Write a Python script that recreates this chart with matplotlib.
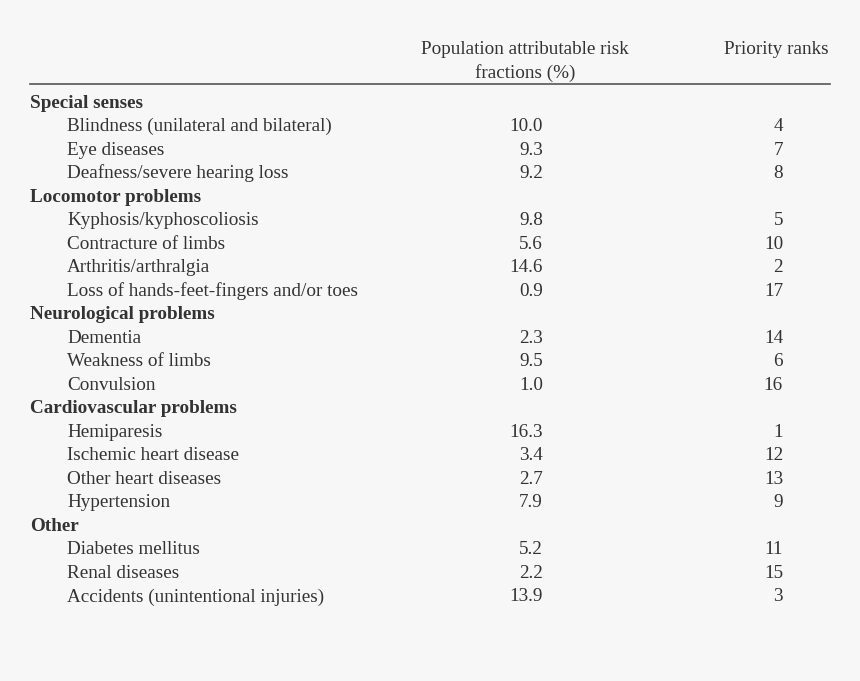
import matplotlib.pyplot as plt

groups = ["Special senses", "Locomotor problems", "Neurological problems",
          "Cardiovascular problems", "Other"]
items = [
    ["Blindness (unilateral and bilateral)", "Eye diseases", "Deafness/severe hearing loss"],
    ["Kyphosis/kyphoscoliosis", "Contracture of limbs", "Arthritis/arthralgia",
     "Loss of hands-feet-fingers and/or toes"],
    ["Dementia", "Weakness of limbs", "Convulsion"],
    ["Hemiparesis", "Ischemic heart disease", "Other heart diseases", "Hypertension"],
    ["Diabetes mellitus", "Renal diseases", "Accidents (unintentional injuries)"],
]
paf = [
    [10.0, 9.3, 9.2],
    [9.8, 5.6, 14.6, 0.9],
    [2.3, 9.5, 1.0],
    [16.3, 3.4, 2.7, 7.9],
    [5.2, 2.2, 13.9],
]
ranks = [
    [4, 7, 8],
    [5, 10, 2, 17],
    [14, 6, 16],
    [1, 12, 13, 9],
    [11, 15, 3],
]

bg = "#f7f7f7"
fg = "#333333"
fs = 13.8
plt.rcParams['font.family'] = ['Liberation Serif', 'DejaVu Serif']

fig = plt.figure(figsize=(8.6, 6.81), dpi=100, facecolor=bg)
ax = fig.add_axes([0, 0, 1, 1])
ax.set_facecolor(bg)
ax.set_xlim(0, 860)
ax.set_ylim(681, 0)
ax.axis('off')

# header
ax.text(525, 49, "Population attributable risk", ha='center', va='center', fontsize=fs, color=fg)
ax.text(525, 73, "fractions (%)", ha='center', va='center', fontsize=fs, color=fg)
ax.text(829, 49, "Priority ranks", ha='right', va='center', fontsize=fs, color=fg)
ax.plot([30, 830], [84, 84], color="#555555", lw=1.2)

y0, step = 103, 23.52
row = 0
for g, its, vals, rks in zip(groups, items, paf, ranks):
    ax.text(30, y0 + row * step, g, ha='left', va='center', fontsize=fs,
            fontweight='bold', color=fg)
    row += 1
    for name, v, r in zip(its, vals, rks):
        y = y0 + row * step
        ax.text(67, y, name, ha='left', va='center', fontsize=fs, color=fg)
        ax.text(543, y, f"{v:.1f}", ha='right', va='center', fontsize=fs, color=fg)
        ax.text(783, y, str(r), ha='right', va='center', fontsize=fs, color=fg)
        row += 1

fig.savefig("out.png", dpi=100, facecolor=bg)
